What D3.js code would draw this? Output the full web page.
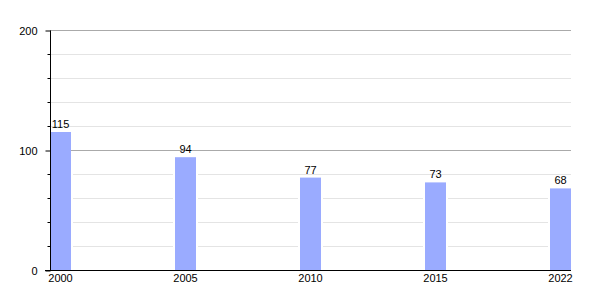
<!DOCTYPE html>
<html>
<head>
  <meta charset="UTF-8">
  <title>bars</title>
  <style>
    body { margin: 0; background: #fff; }
    text { font-family: "Liberation Sans", Arial, sans-serif; font-size: 11px; fill: #000; }
  </style>
</head>
<body>
  <svg width="600" height="300"></svg>

  <script src="https://d3js.org/d3.v7.min.js"></script>
  <script>
  // data
  var years = ["2000", "2005", "2010", "2015", "2022"];
  var values = [115, 94, 77, 73, 68];
  var majorTicks = [0, 100, 200];
  var minorTicks = [20, 40, 60, 80, 120, 140, 160, 180];

  var mLeft = 50, mRight = 571, mTop = 30, mBottom = 270;
  var svg = d3.select("svg");

  var x = d3.scaleBand()
    .domain(years)
    .range([mLeft, mRight])
    .paddingInner(0.832)
    .paddingOuter(0);

  var y = d3.scaleLinear()
    .domain([0, 200])
    .range([mBottom, mTop]);

  // minor grid
  svg.append("g").selectAll("line")
    .data(minorTicks)
    .enter().append("line")
    .attr("x1", mLeft).attr("x2", mRight)
    .attr("y1", function(d) { return y(d) + 0.5; })
    .attr("y2", function(d) { return y(d) + 0.5; })
    .attr("stroke", "#e4e4e4");

  // white gap round bars
  svg.append("g").selectAll("rect")
    .data(values)
    .enter().append("rect")
    .attr("x", function(d, i) { return x(years[i]) - 2; })
    .attr("width", x.bandwidth() + 4)
    .attr("y", function(d) { return y(d); })
    .attr("height", function(d) { return y(0) - y(d); })
    .attr("fill", "#fff");

  // major grid
  svg.append("g").selectAll("line")
    .data(majorTicks.filter(function(d) { return d > 0; }))
    .enter().append("line")
    .attr("x1", mLeft).attr("x2", mRight)
    .attr("y1", function(d) { return y(d) + 0.5; })
    .attr("y2", function(d) { return y(d) + 0.5; })
    .attr("stroke", "#aaaaaa");

  // bars
  svg.append("g").selectAll("rect")
    .data(values)
    .enter().append("rect")
    .attr("x", function(d, i) { return x(years[i]); })
    .attr("width", x.bandwidth())
    .attr("y", function(d) { return y(d); })
    .attr("height", function(d) { return y(0) - y(d); })
    .attr("fill", "#9aabff");

  // value labels
  svg.append("g").selectAll("text")
    .data(values)
    .enter().append("text")
    .attr("x", function(d, i) { return x(years[i]) + x.bandwidth() / 2; })
    .attr("y", function(d) { return y(d) - 4; })
    .attr("text-anchor", "middle")
    .text(function(d) { return d; });

  // y axis
  var yAxis = svg.append("g")
    .attr("transform", "translate(" + (mLeft + 0.5) + ",0.5)")
    .call(d3.axisLeft(y).tickValues(majorTicks).tickSize(5).tickPadding(8));
  yAxis.select(".domain").attr("d", "M0," + mTop + "V" + mBottom).attr("stroke", "#000");
  yAxis.selectAll("text").attr("font-size", null).attr("font-family", null);
  yAxis.selectAll(".minor")
    .data(minorTicks)
    .enter().append("line")
    .attr("class", "minor")
    .attr("x1", -3).attr("x2", 0)
    .attr("y1", function(d) { return y(d); })
    .attr("y2", function(d) { return y(d); })
    .attr("stroke", "#000");

  // x axis
  var xAxis = svg.append("g")
    .attr("transform", "translate(0," + (mBottom + 0.5) + ")")
    .call(d3.axisBottom(x).tickSize(0).tickPadding(4));
  xAxis.select(".domain").attr("d", "M" + (mLeft - 5) + ",0H" + mRight).attr("stroke", "#000");
  xAxis.selectAll("text").attr("font-size", null).attr("font-family", null);
  </script>
</body>
</html>
